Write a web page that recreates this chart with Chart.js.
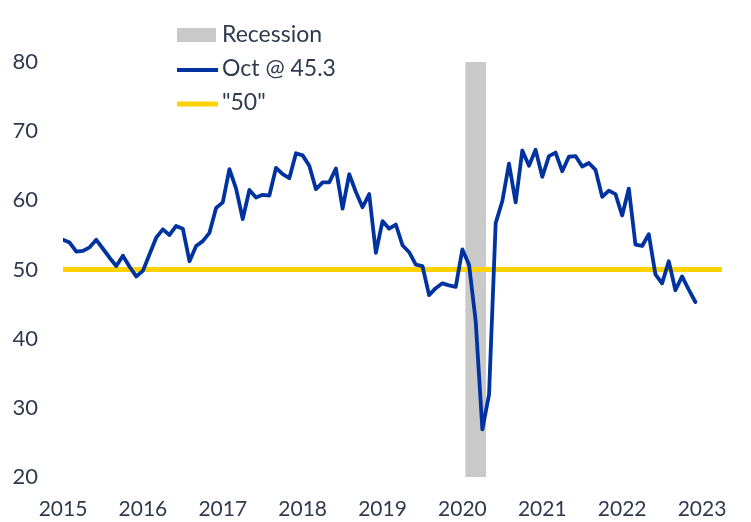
<!DOCTYPE html>
<html><head><meta charset="utf-8">
<script src="https://cdn.jsdelivr.net/npm/chart.js@4"></script>
<style>html,body{margin:0;padding:0;background:#fff}</style>
</head><body>
<canvas id="c" width="751" height="522"></canvas>
<script>
// ---- data ----
const yearLabels = ['2015','2016','2017','2018','2019','2020','2021','2022','2023'];
const yearTickMonths = [0,12,24,36,48,60,72,84,96]; // month index of each year label
const indexValues = [
  54.3,53.9,52.6,52.7,53.2,54.3,53.0,51.7,50.5,52.0,50.4,49.0,
  49.8,52.2,54.6,55.8,55.0,56.3,55.9,51.2,53.4,54.1,55.3,58.9,
  59.7,64.5,61.7,57.3,61.5,60.4,60.8,60.7,64.7,63.8,63.2,66.8,
  66.5,65.0,61.6,62.6,62.6,64.6,58.8,63.8,61.2,59.0,60.9,52.4,
  57.0,55.9,56.5,53.5,52.5,50.7,50.5,46.3,47.3,48.0,47.7,47.5,
  52.9,50.7,42.5,26.9,31.9,56.7,59.9,65.3,59.7,67.2,65.0,67.3,
  63.4,66.4,66.9,64.2,66.3,66.4,64.9,65.4,64.4,60.5,61.4,60.9,
  57.8,61.7,53.6,53.4,55.1,49.3,48.0,51.2,47.0,49.0,47.1,45.3
];
const recessionMonths = [61,62,63];
const recessionTop = [80,80,80];
const referenceLevel = 50;
const referenceSpan = [0,99];
const seriesNames = ['Recession','Oct @ 45.3','"50"'];

// ---- build ----
const lineData = indexValues.map((v,i)=>({x:i,y:v}));
const recData = recessionMonths.map((m,i)=>({x:m,y:recessionTop[i]}));
const refData = referenceSpan.map(x=>({x:x,y:referenceLevel}));

const textColor = '#2E3B4E';

const customLegend = {
  id:'customLegend',
  afterDraw(chart){
    const o = chart.options.plugins.customLegend;
    const ctx = chart.ctx;
    ctx.save();
    ctx.font = o.font;
    ctx.fillStyle = textColor;
    ctx.textBaseline = 'middle';
    ctx.textAlign = 'left';
    chart.data.datasets.forEach((ds,i)=>{
      const y = o.top + i*o.rowGap;
      if (ds.type === 'bar') {
        ctx.fillStyle = ds.backgroundColor;
        ctx.fillRect(o.left, y-7, o.symbolW-2, 14);
      } else {
        ctx.strokeStyle = ds.borderColor;
        ctx.lineWidth = ds.borderWidth;
        ctx.beginPath();
        ctx.moveTo(o.left, y+1); ctx.lineTo(o.left+o.symbolW, y+1);
        ctx.stroke();
      }
      ctx.fillStyle = textColor;
      ctx.fillText(ds.label, o.left+o.symbolW+4, y);
    });
    ctx.restore();
  }
};

new Chart(document.getElementById('c'), {
  type:'line',
  data:{
    datasets:[
      {type:'bar', label:seriesNames[0], data:recData, backgroundColor:'#C9C9C9',
       barPercentage:1, categoryPercentage:1, order:3},
      {type:'line', label:seriesNames[1], data:lineData, borderColor:'#0033A0',
       borderWidth:3.8, pointRadius:0, tension:0, order:1, borderJoinStyle:'round', borderCapStyle:'round'},
      {type:'line', label:seriesNames[2], data:refData, borderColor:'#FFD200',
       borderWidth:5, pointRadius:0, order:2, clip:false}
    ]
  },
  plugins:[customLegend],
  options:{
    responsive:false, animation:false,
    layout:{padding:{top:62,right:29,left:0,bottom:0}},
    plugins:{
      legend:{display:false}, tooltip:{enabled:false},
      customLegend:{left:177, top:35, rowGap:34, symbolW:41, font:'23px Lato'}
    },
    scales:{
      x:{type:'linear', min:0, max:99, offset:false,
         grid:{display:false, drawTicks:false}, border:{display:false},
         afterBuildTicks:(s)=>{ s.ticks = yearTickMonths.map(v=>({value:v})); },
         afterFit:(s)=>{ s.height = 45; },
         ticks:{autoSkip:false, maxRotation:0, padding:20, color:textColor,
           font:{family:'Lato', size:21},
           callback:(v)=>{ const k = yearTickMonths.indexOf(v); return k>=0 ? yearLabels[k] : ''; }}
      },
      y:{type:'linear', min:20, max:80,
         grid:{display:false, drawTicks:false}, border:{display:false},
         afterFit:(s)=>{ s.width = 63; },
         ticks:{stepSize:10, padding:25, color:textColor, font:{family:'Lato', size:22}}
      }
    }
  }
});
</script>
</body></html>
